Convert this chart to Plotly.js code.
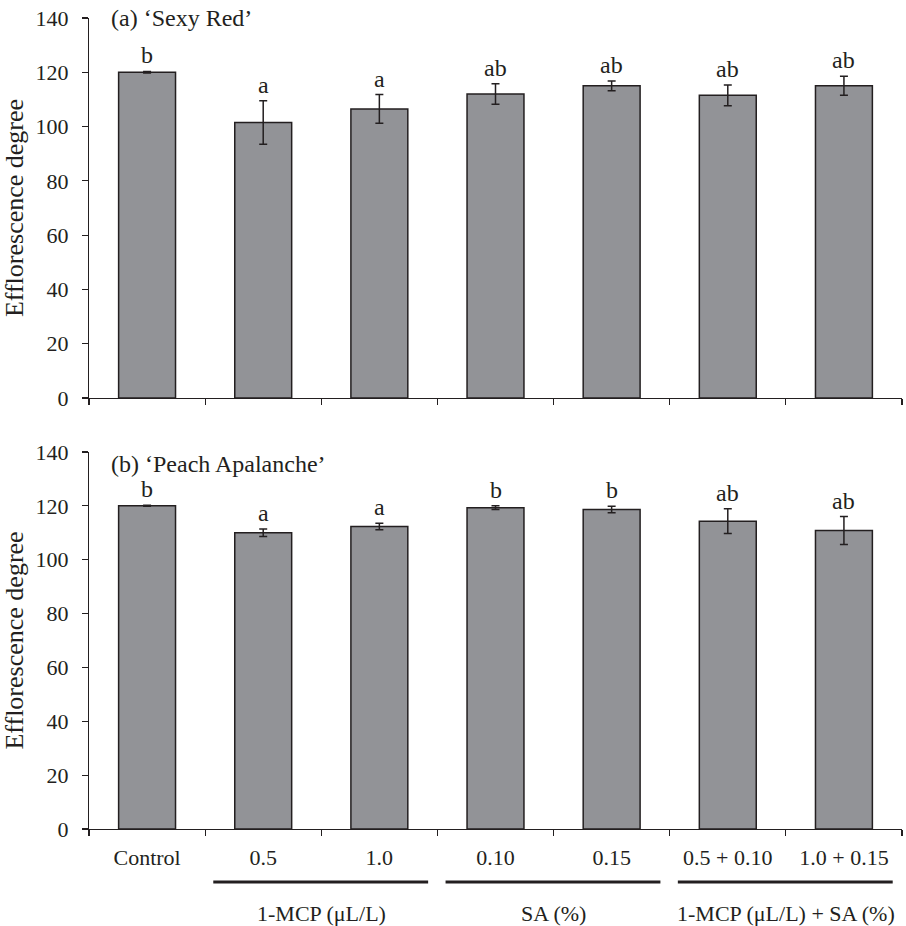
<!DOCTYPE html>
<html>
<head>
<meta charset="utf-8">
<script src="https://cdn.plot.ly/plotly-3.0.1.min.js"></script>
<style>
  html, body { margin: 0; padding: 0; background: #fff; }
  #chart { width: 906px; height: 926px; }
</style>
</head>
<body>
<div id="chart"></div>
<script>
// Treatments (x categories shared by both cultivars)
const categories = ["Control", "0.5", "1.0", "0.10", "0.15", "0.5 + 0.10", "1.0 + 0.15"];

// (a) 'Sexy Red'
const sexyRedMean = [120.0, 101.5, 106.5, 112.0, 115.0, 111.5, 115.0];
const sexyRedErr  = [0.3, 8.0, 5.3, 3.8, 1.8, 3.8, 3.5];
const sexyRedLetters = ["b", "a", "a", "ab", "ab", "ab", "ab"];

// (b) 'Peach Apalanche'
const peachMean = [120.0, 110.0, 112.3, 119.3, 118.6, 114.3, 110.8];
const peachErr  = [0.2, 1.4, 1.2, 0.7, 1.2, 4.6, 5.2];
const peachLetters = ["b", "a", "a", "b", "b", "ab", "ab"];

// Treatment groups drawn under the lower axis: [label, first index, last index]
const groupLabels = ["1-MCP (\u03bcL/L)", "SA (%)", "1-MCP (\u03bcL/L) + SA (%)"];
const groupStart = [1, 3, 5];
const groupEnd = [2, 4, 6];

const panelTitles = ["(a) \u2018Sexy Red\u2019", "(b) \u2018Peach Apalanche\u2019"];
const yTitle = "Efflorescence degree";
const yTickValues = [0, 20, 40, 60, 80, 100, 120, 140];

const serif = "Liberation Serif, Times New Roman, serif";
const ink = "#231f20";
const barFill = "#929397";

function barTrace(values, errs, xa, ya) {
  return {
    type: "bar",
    x: categories,
    y: values,
    xaxis: xa,
    yaxis: ya,
    width: 0.49,
    marker: { color: barFill, line: { color: ink, width: 1.5 } },
    error_y: { type: "data", array: errs, visible: true, color: ink, thickness: 1.5, width: 4 },
    hoverinfo: "x+y",
    showlegend: false
  };
}

const data = [
  barTrace(sexyRedMean, sexyRedErr, "x", "y"),
  barTrace(peachMean, peachErr, "x2", "y2")
];

const annotations = [];
// significance letters sit just above each error bar (x given as category index)
function addLetters(values, errs, letters, xr, yr) {
  letters.forEach((t, i) => {
    annotations.push({
      x: i, y: values[i] + errs[i], xref: xr, yref: yr,
      text: t, showarrow: false, yanchor: "bottom", yshift: 1,
      font: { family: serif, size: 24, color: ink }
    });
  });
}
addLetters(sexyRedMean, sexyRedErr, sexyRedLetters, "x", "y");
addLetters(peachMean, peachErr, peachLetters, "x2", "y2");

annotations.push({
  x: 0.025, y: 140, xref: "paper", yref: "y", text: panelTitles[0],
  showarrow: false, xanchor: "left", yanchor: "middle", yshift: 0,
  font: { family: serif, size: 24, color: ink }
});
annotations.push({
  x: 0.025, y: 140, xref: "paper", yref: "y2", text: panelTitles[1],
  showarrow: false, xanchor: "left", yanchor: "middle", yshift: -12,
  font: { family: serif, size: 24, color: ink }
});

const shapes = [];
groupLabels.forEach((g, k) => {
  shapes.push({
    type: "line", xref: "x2", yref: "paper",
    x0: groupStart[k] - 0.43, x1: groupEnd[k] + 0.42,
    y0: -0.0654, y1: -0.0654,
    line: { color: ink, width: 3 }
  });
  annotations.push({
    x: (groupStart[k] + groupEnd[k]) / 2, y: -0.1036, xref: "x2", yref: "paper",
    text: g, showarrow: false, yanchor: "middle",
    font: { family: serif, size: 22, color: ink }
  });
});

function xAxis(showLabels, anchor) {
  return {
    type: "category",
    anchor: anchor,
    showline: true, linecolor: ink, linewidth: 1.2,
    ticks: "outside", tickson: "boundaries", ticklen: 6, tickcolor: ink, tickwidth: 1.2,
    showticklabels: showLabels,
    ticklabelstandoff: 8,
    tickfont: { family: serif, size: 22, color: ink },
    showgrid: false, zeroline: false,
    fixedrange: true
  };
}
function yAxis(domain, anchor) {
  return {
    domain: domain,
    anchor: anchor,
    range: [0, 140],
    tickvals: yTickValues,
    showline: true, linecolor: ink, linewidth: 1.2,
    ticks: "outside", ticklen: 6, tickcolor: ink, tickwidth: 1.2,
    ticklabelstandoff: 9,
    tickfont: { family: serif, size: 22, color: ink },
    showgrid: false, zeroline: false,
    title: { text: yTitle, font: { family: serif, size: 26, color: ink }, standoff: 6 },
    fixedrange: true
  };
}

const layout = {
  width: 906, height: 926,
  margin: { l: 89, r: 4, t: 18, b: 97 },
  paper_bgcolor: "#fff", plot_bgcolor: "#fff",
  bargap: 0.51,
  xaxis: Object.assign(xAxis(false, "y"), { matches: "x2" }),
  yaxis: yAxis([0.5314, 1], "x"),
  xaxis2: xAxis(true, "y2"),
  yaxis2: yAxis([0, 0.4649], "x2"),
  annotations: annotations,
  shapes: shapes,
  font: { family: serif, color: ink }
};

Plotly.newPlot("chart", data, layout, { displayModeBar: false, staticPlot: true });
</script>
</body>
</html>
